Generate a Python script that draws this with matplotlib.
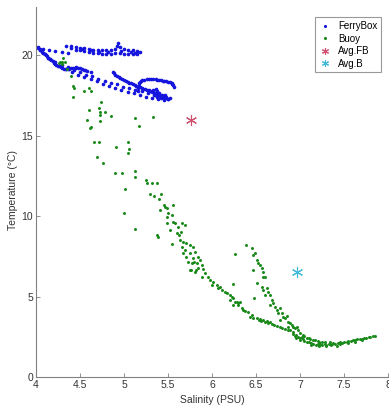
import matplotlib
matplotlib.use('Agg')
import matplotlib.pyplot as plt

plt.rcParams['font.family'] = ['Liberation Sans', 'DejaVu Sans']

#==============================================================================
# data
#==============================================================================

# FerryBox: upper tongue, dotted lines, left curve, second tongue and loop
ferry_sal = [
    # upper tongue, top edge
    4.34, 4.40, 4.45, 4.50, 4.55, 4.60, 4.65, 4.70, 4.75, 4.80, 4.85, 4.90,
    4.92, 4.93, 4.95, 5.00, 5.05, 5.10, 5.15, 5.18,
    # upper tongue, lower edge
    4.40, 4.45, 4.50, 4.55, 4.60, 4.65, 4.70, 4.75, 4.80, 4.85, 4.90, 4.95,
    5.00, 5.05, 5.10, 5.15, 4.52, 4.62, 4.72, 4.82, 4.97, 5.08, 5.12,
    # dotted line to the tongue
    4.02, 4.08, 4.15, 4.22, 4.29, 4.36,
    # dotted diagonal A
    4.05, 4.10, 4.16, 4.22, 4.29, 4.36, 4.43, 4.50, 4.57, 4.64, 4.71, 4.78,
    4.85, 4.92, 4.99, 5.06, 5.13, 5.20, 5.27, 5.34, 5.41, 5.48,
    # dotted diagonal B
    4.08, 4.14, 4.20, 4.27, 4.34, 4.41, 4.48, 4.55, 4.62, 4.69, 4.76, 4.83,
    4.90, 4.97, 5.04, 5.11, 5.18, 5.25, 5.32, 5.39, 5.46,
    # left curve
    4.02, 4.04, 4.05, 4.07, 4.08, 4.10, 4.11, 4.13, 4.14, 4.16, 4.17, 4.19,
    4.20, 4.22, 4.23, 4.25, 4.26, 4.28, 4.30, 4.32, 4.34, 4.36, 4.38, 4.40,
    4.42, 4.44, 4.46, 4.48, 4.50, 4.52, 4.54, 4.56, 4.58, 4.62,
    # second tongue
    4.87, 4.89, 4.90, 4.92, 4.94, 4.96, 4.98, 5.00, 5.02, 5.04, 5.06, 5.08,
    5.10, 5.12, 5.14, 5.16, 5.18, 5.20, 5.22, 5.24, 5.26, 5.28, 5.30, 5.32,
    5.33, 5.35, 5.36, 5.38, 5.39, 5.41, 5.42, 5.44, 5.45, 5.47, 5.48, 5.50,
    5.33, 5.36, 5.38, 5.40, 5.43, 5.35, 5.45, 5.52, 5.47, 5.42, 5.38, 5.50,
    # loop
    5.16, 5.16, 5.17, 5.17, 5.18, 5.19, 5.21, 5.23, 5.26, 5.28, 5.31, 5.33,
    5.36, 5.38, 5.40, 5.42, 5.44, 5.46, 5.48, 5.50, 5.52, 5.54, 5.55, 5.56,
    5.57,
]
ferry_temp = [
    20.55, 20.55, 20.50, 20.45, 20.45, 20.40, 20.35, 20.35, 20.30, 20.30,
    20.35, 20.40, 20.60, 20.75, 20.50, 20.40, 20.35, 20.30, 20.25, 20.20,
    20.45, 20.35, 20.30, 20.25, 20.20, 20.15, 20.15, 20.10, 20.10, 20.10,
    20.15, 20.15, 20.10, 20.10, 20.10, 20.05, 20.38, 20.30, 20.22, 20.20,
    20.28, 20.22, 20.15,
    20.50, 20.40, 20.30, 20.25, 20.20, 20.15,
    20.35, 20.05, 19.75, 19.55, 19.40, 19.25, 19.10, 18.95, 18.80, 18.68,
    18.55, 18.42, 18.30, 18.18, 18.05, 17.95, 17.85, 17.75, 17.65, 17.55,
    17.47, 17.40,
    20.15, 19.80, 19.50, 19.30, 19.12, 18.95, 18.80, 18.65, 18.50, 18.37,
    18.23, 18.10, 17.97, 17.85, 17.73, 17.62, 17.52, 17.42, 17.33, 17.25,
    17.20,
    20.45, 20.38, 20.30, 20.22, 20.15, 20.08, 20.00, 19.92, 19.85, 19.78,
    19.70, 19.62, 19.55, 19.48, 19.42, 19.36, 19.30, 19.25, 19.20, 19.17,
    19.15, 19.15, 19.15, 19.18, 19.20, 19.22, 19.25, 19.22, 19.20, 19.15,
    19.10, 19.05, 19.00, 18.95,
    18.95, 18.88, 18.80, 18.72, 18.65, 18.58, 18.52, 18.46, 18.40, 18.35,
    18.30, 18.25, 18.20, 18.15, 18.10, 18.05, 18.00, 17.96, 17.92, 17.88,
    17.85, 17.81, 17.78, 17.74, 17.70, 17.66, 17.62, 17.58, 17.55, 17.51,
    17.48, 17.45, 17.42, 17.39, 17.36, 17.30,
    17.85, 17.90, 17.75, 17.65, 17.55, 17.50, 17.30, 17.35, 17.50, 17.35,
    17.42, 17.25,
    17.80, 17.95, 18.10, 18.25, 18.35, 18.42, 18.46, 18.48, 18.50, 18.50,
    18.50, 18.50, 18.49, 18.48, 18.46, 18.44, 18.41, 18.39, 18.37, 18.35,
    18.32, 18.28, 18.22, 18.12, 18.02,
]

# Buoy scatter
buoy_sal = [
    4.27, 4.31, 4.29, 4.30, 4.26, 4.33, 4.35, 4.40, 4.42, 4.43, 4.42, 4.55,
    4.60, 4.62, 4.60, 4.74, 4.72, 4.73, 4.78, 4.85, 4.58, 4.73, 4.73, 4.63,
    4.61, 4.66, 4.72, 4.69, 4.76, 4.91, 5.04, 5.06, 5.05, 5.12, 5.17, 5.33,
    4.90, 4.98, 5.12, 5.12, 5.25, 5.26, 5.32, 5.37, 5.01, 5.30, 5.34, 5.42,
    5.40, 5.46, 5.47, 5.56, 5.41, 5.49, 5.50, 5.55, 5.49, 5.00, 5.49, 5.56,
    5.58, 5.66, 5.69, 5.61, 5.52, 5.60, 5.65, 5.12, 5.37, 5.39,
    5.63, 5.55, 5.64, 5.67, 5.71, 5.75, 5.78, 5.66, 5.69, 5.67, 5.75, 5.81,
    5.71, 5.78, 5.84, 5.86, 5.73, 5.77, 5.83, 5.89, 5.75, 5.81, 5.90, 5.92,
    5.89, 5.95, 5.98, 6.01, 6.00, 6.06, 6.07, 6.09, 6.11, 6.15, 6.17, 6.20,
    6.23, 6.24, 6.28, 6.32, 6.30, 6.24, 6.34, 6.35, 6.41, 6.43, 6.47, 6.51,
    6.55, 6.58, 6.62, 6.66,
    6.26, 6.24, 6.48, 5.84, 5.82, 5.76, 5.80,
    6.39, 6.45, 6.47, 6.49, 6.51, 6.52, 6.55, 6.47, 6.57, 6.58, 6.58, 6.60,
    6.51, 6.57, 6.58, 6.62, 6.64, 6.60, 6.66, 6.68, 6.69, 6.66, 6.72, 6.74,
    6.77, 6.75, 6.80, 6.81, 6.83, 6.85, 6.77, 6.86, 6.89, 6.91, 6.92, 6.94,
    6.97, 6.98, 6.92, 7.00, 7.03, 6.94, 7.02, 7.08, 7.11, 7.17, 7.22, 7.28,
    7.34,
    6.20, 6.26, 6.29, 6.38, 6.45, 6.53, 6.56, 6.60, 6.64, 6.68, 6.71, 6.74,
    6.77, 6.80, 6.83, 6.86, 6.89, 6.86, 6.92, 6.95, 6.98, 7.00, 7.03, 7.05,
    7.08, 7.10, 7.13, 7.15, 7.18, 7.20, 7.23, 7.25, 7.28, 7.30, 7.33, 7.36,
    7.38, 7.40, 7.43, 7.45, 7.48, 7.50, 7.53, 7.55, 7.58, 7.60, 7.63, 7.65,
    7.68, 7.70, 7.73, 7.75, 7.78, 7.80, 7.83, 7.85, 7.05, 7.10, 7.15, 7.20,
    7.25, 7.12, 7.22, 7.35, 7.45, 7.55, 7.62, 7.70, 7.42, 7.00, 6.95, 7.30,
]
buoy_temp = [
    19.57, 19.80, 19.60, 19.45, 19.50, 19.55, 19.15, 18.70, 18.07, 17.95,
    17.40, 17.76, 17.95, 17.76, 16.60, 17.10, 16.70, 16.46, 16.46, 16.20,
    16.00, 16.27, 15.90, 15.53, 15.45, 14.60, 14.60, 13.70, 13.30, 14.30,
    14.60, 14.15, 13.95, 16.10, 15.60, 16.15,
    12.70, 12.70, 12.80, 12.40, 12.25, 12.05, 12.05, 12.05, 11.70, 11.40,
    11.25, 11.40, 11.05, 10.70, 10.56, 10.70, 10.37, 10.50, 10.20, 10.06,
    9.94, 10.18, 9.57, 9.63, 9.57, 9.57, 9.44, 9.32, 9.13, 8.94, 9.00,
    9.19, 8.80, 8.70,
    8.80, 8.26, 8.50, 8.40, 8.30, 8.20, 8.07, 8.07, 7.90, 7.70, 7.70, 7.76,
    7.45, 7.39, 7.45, 7.27, 7.14, 7.08, 7.08, 6.96, 6.65, 6.52, 6.70, 6.46,
    6.21, 6.21, 6.02, 5.90, 5.71, 5.71, 5.53, 5.59, 5.40, 5.28, 5.20, 5.09,
    4.97, 4.90, 4.66, 4.66, 4.47, 4.47, 4.28, 4.16, 4.04, 3.73, 3.66, 3.66,
    3.60, 3.54, 3.48, 3.42,
    7.64, 5.78, 4.90, 6.77, 6.65, 6.65, 7.15,
    8.20, 8.01, 7.58, 7.70, 7.27, 7.08, 6.96, 6.65, 6.77, 6.52, 6.21, 6.21,
    5.84, 5.59, 5.40, 5.53, 5.28, 5.09, 5.09, 4.78, 4.60, 4.47, 4.35, 4.16,
    4.28, 3.98, 3.98, 3.73, 3.66, 3.79, 3.54, 3.42, 3.35, 3.23, 3.11, 3.04,
    3.11, 2.92, 2.80, 2.73, 2.61, 2.55, 2.48, 2.42, 2.36, 2.30, 2.17, 2.17,
    2.17,
    4.78, 4.66, 4.60, 4.10, 3.85, 3.52, 3.45, 3.40, 3.38, 3.30, 3.25, 3.15,
    3.08, 3.02, 2.98, 2.95, 2.90, 3.10, 2.70, 2.62, 2.50, 2.40, 2.35, 2.25,
    2.20, 2.15, 2.12, 2.05, 2.00, 2.02, 2.05, 1.98, 2.05, 2.00, 2.08, 2.05,
    2.10, 2.08, 2.12, 2.15, 2.12, 2.20, 2.18, 2.25, 2.22, 2.28, 2.30, 2.35,
    2.38, 2.35, 2.42, 2.45, 2.48, 2.50, 2.52, 2.55, 2.55, 2.40, 2.30, 2.25,
    2.20, 2.00, 1.95, 1.98, 2.05, 2.10, 2.20, 2.28, 1.95, 2.30, 2.40, 1.92,
]

avg_fb = (5.76, 16.0)
avg_b = (6.97, 6.52)

x_ticks = [4, 4.5, 5, 5.5, 6, 6.5, 7, 7.5, 8]
y_ticks = [0, 5, 10, 15, 20]

#==============================================================================
# plot
#==============================================================================

fig = plt.figure(figsize=(3.89, 4.08), dpi=100)
ax = fig.add_axes([0.0925, 0.076, 0.905, 0.907])

ax.plot(ferry_sal, ferry_temp, '.', color='#1515dd', ms=3.2, label='FerryBox')
ax.plot(buoy_sal, buoy_temp, '.', color='#1a8a1a', ms=2.3, label='Buoy')
ax.plot(*avg_fb, ls='none', marker=(6, 2, 0), color='#d05070', ms=8,
        mew=0.8, label='Avg.FB')
ax.plot(*avg_b, ls='none', marker=(6, 2, 0), color='#40b8d8', ms=8,
        mew=0.8, label='Avg.B')

ax.set_xlim(4, 8)
ax.set_ylim(0, 23)
ax.set_xticks(x_ticks)
ax.set_xticklabels(['4', '4.5', '5', '5.5', '6', '6.5', '7', '7.5', '8'])
ax.set_yticks(y_ticks)

for s in ['top', 'right']:
    ax.spines[s].set_visible(False)
for s in ['left', 'bottom']:
    ax.spines[s].set_color('#808080')
    ax.spines[s].set_linewidth(0.8)
ax.tick_params(direction='in', length=3, width=0.6, color='#808080',
               labelsize=7.5, labelcolor='#333333', pad=2)

ax.set_xlabel('Salinity (PSU)', fontsize=7.5, color='#333333', labelpad=4)
ax.set_ylabel('Temperature (\u00b0C)', fontsize=7.5, color='#333333')
ax.yaxis.set_label_coords(-0.052, 0.505)

leg = ax.legend(loc='upper right', bbox_to_anchor=(0.995, 0.985), fontsize=7,
                frameon=True, fancybox=False, edgecolor='#808080',
                handlelength=1.2, handletextpad=0.8, borderpad=0.4,
                labelspacing=0.25, numpoints=1)
leg.get_frame().set_linewidth(0.8)
for h in leg.legend_handles[:2]:
    h.set_markersize(2.5)
for h in leg.legend_handles[2:]:
    h.set_markersize(5)

fig.savefig('out.png', dpi=100)
